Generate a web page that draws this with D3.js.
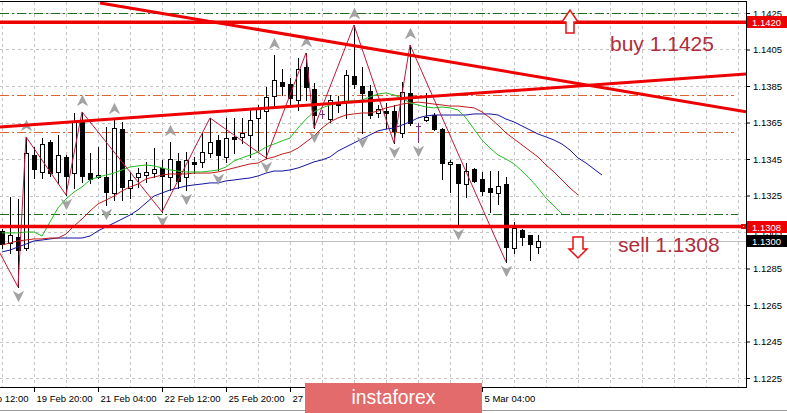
<!DOCTYPE html>
<html><head><meta charset="utf-8">
<script src="https://cdn.jsdelivr.net/npm/d3@7"></script>
<style>
html,body{margin:0;padding:0;background:#fff;}
svg{display:block;}
text{font-family:"Liberation Sans",Arial,sans-serif;}
</style></head><body>
<svg id="c" width="787" height="413"></svg>
<script>
// ---------- DATA (H4 candles, index 0 = 19 Feb 04:00) ----------
const open = [1.13055,1.12990,1.13023,1.12962,1.13472,1.13379,1.13543,1.13379,1.13461,1.13373,
1.13664,1.13373,1.13351,1.13351,1.13264,1.13614,1.13291,1.13351,1.13362,1.13373,
1.13401,1.13351,1.13439,1.13351,1.13434,1.13434,1.13483,1.13554,1.13461,1.13571,
1.13571,1.13582,1.13675,1.13713,1.13795,1.13872,1.13861,1.13773,1.13954,1.13834,
1.13697,1.13669,1.13762,1.13762,1.13905,1.13850,1.13823,1.13702,1.13713,1.13713,
1.13592,1.13812,1.13631,1.13664,1.13691,1.13614,1.13423,1.13423,1.13313,1.13395,
1.13340,1.13291,1.13264,1.13313,1.12962,1.13061,1.13034,1.12968];
const high = [1.13066,1.13242,1.13231,1.13571,1.13516,1.13565,1.13554,1.13582,1.13472,1.13702,
1.13708,1.13483,1.13516,1.13625,1.13664,1.13653,1.13373,1.13401,1.13434,1.13510,
1.13445,1.13543,1.13483,1.13488,1.13461,1.13592,1.13675,1.13582,1.13675,1.13675,
1.13675,1.13719,1.13746,1.13845,1.14020,1.13943,1.13894,1.14003,1.14031,1.13867,
1.13719,1.13801,1.13795,1.13938,1.14184,1.13954,1.13856,1.13746,1.13757,1.13746,
1.13872,1.14075,1.13647,1.13812,1.13702,1.13620,1.13445,1.13423,1.13428,1.13401,
1.13379,1.13384,1.13384,1.13351,1.13105,1.13066,1.13034,1.13034];
const low = [1.12962,1.12935,1.12749,1.12951,1.13346,1.13346,1.13357,1.13319,1.13253,1.13291,
1.13324,1.13319,1.13346,1.13198,1.13225,1.13225,1.13236,1.13297,1.13324,1.13351,
1.13160,1.13280,1.13291,1.13280,1.13373,1.13406,1.13461,1.13390,1.13434,1.13483,
1.13538,1.13461,1.13499,1.13456,1.13735,1.13801,1.13746,1.13719,1.13773,1.13620,
1.13675,1.13653,1.13708,1.13675,1.13839,1.13592,1.13675,1.13680,1.13620,1.13538,
1.13571,1.13636,1.13543,1.13658,1.13609,1.13340,1.13269,1.13088,1.13242,1.13324,
1.13253,1.13160,1.13204,1.12886,1.12935,1.12979,1.12897,1.12935];
const close = [1.12984,1.13034,1.12951,1.13483,1.13395,1.13532,1.13373,1.13472,1.13357,1.13653,
1.13357,1.13340,1.13362,1.13269,1.13620,1.13297,1.13335,1.13373,1.13379,1.13395,
1.13357,1.13450,1.13330,1.13445,1.13423,1.13488,1.13543,1.13472,1.13565,1.13560,
1.13592,1.13664,1.13724,1.13790,1.13883,1.13850,1.13784,1.13943,1.13845,1.13691,
1.13697,1.13773,1.13746,1.13910,1.13861,1.13812,1.13691,1.13724,1.13702,1.13603,
1.13817,1.13647,1.13631,1.13680,1.13614,1.13428,1.13434,1.13319,1.13384,1.13330,
1.13275,1.13269,1.13302,1.12968,1.13072,1.13023,1.12984,1.13000];

// Alligator-style moving averages (shifted forward)
const maGreen = [1.13045,1.13045,1.13045,1.13050,1.13050,1.13028,1.13105,1.13182,1.13231,1.13269,
1.13297,1.13335,1.13351,1.13362,1.13373,1.13390,1.13406,1.13412,1.13417,1.13412,
1.13401,1.13390,1.13384,1.13379,1.13379,1.13379,1.13384,1.13390,1.13406,1.13439,
1.13456,1.13472,1.13488,1.13516,1.13532,1.13549,1.13565,1.13620,1.13669,1.13708,
1.13730,1.13746,1.13757,1.13768,1.13768,1.13773,1.13790,1.13806,1.13812,1.13801,
1.13784,1.13757,1.13746,1.13735,1.13730,1.13735,1.13730,1.13719,1.13675,1.13614,
1.13554,1.13510,1.13472,1.13450,1.13423,1.13384,1.13341,1.13291,1.13236,1.13193,
1.13149];
const maRed = [1.12979,1.12990,1.13001,1.13006,1.13012,1.13012,1.13017,1.13017,1.13039,1.13083,
1.13121,1.13165,1.13204,1.13225,1.13247,1.13275,1.13297,1.13313,1.13341,1.13351,
1.13362,1.13368,1.13368,1.13368,1.13373,1.13373,1.13373,1.13379,1.13390,1.13401,
1.13412,1.13423,1.13428,1.13450,1.13461,1.13477,1.13488,1.13510,1.13543,1.13576,
1.13620,1.13653,1.13675,1.13691,1.13697,1.13702,1.13702,1.13713,1.13730,1.13740,
1.13751,1.13757,1.13762,1.13757,1.13751,1.13746,1.13740,1.13740,1.13735,1.13730,
1.13708,1.13675,1.13636,1.13593,1.13560,1.13527,1.13494,1.13461,1.13417,1.13379,
1.13335,1.13291,1.13253];
const maBlue = [1.12941,1.12951,1.12968,1.12984,1.13001,1.13006,1.13012,1.13017,1.13017,1.13017,
1.13017,1.13028,1.13056,1.13078,1.13099,1.13121,1.13143,1.13171,1.13209,1.13247,
1.13264,1.13280,1.13291,1.13302,1.13308,1.13313,1.13319,1.13319,1.13330,1.13335,
1.13341,1.13346,1.13357,1.13373,1.13384,1.13384,1.13390,1.13401,1.13417,1.13434,
1.13445,1.13461,1.13494,1.13516,1.13538,1.13560,1.13582,1.13604,1.13614,1.13620,
1.13636,1.13653,1.13675,1.13686,1.13691,1.13691,1.13691,1.13691,1.13691,1.13697,
1.13697,1.13697,1.13691,1.13669,1.13653,1.13631,1.13609,1.13587,1.13571,1.13554,
1.13532,1.13499,1.13456,1.13428,1.13395,1.13362];

// ZigZag pivots
const zzIdx   = [-1,2,3,8,10,20,26,33,38,39,44,49,51,63];
const zzPrice = [1.12995,1.12749,1.13571,1.13253,1.13708,1.13160,1.13675,1.13456,1.14031,1.13620,1.14184,1.13538,1.14075,1.12886];

// Fractals (candle indices)
const upFractals   = [3,10,14,21,34,38,44,51];
const downFractals = [2,8,13,20,23,27,33,39,45,49,52,57,63];

// Trend lines (index, price)
const trendDownIdx = [12.25, 93];   const trendDownPrice = [1.14305, 1.13709];
const trendUpIdx   = [-0.25, 93];   const trendUpPrice   = [1.13625, 1.13916];

// Horizontal levels
const redLevels    = [1.1420, 1.1308];
const greenLevels  = [1.1425, 1.1315];
const orangeLevels = [1.1380, 1.1360];
const lastPrice    = 1.1300;

// Axis ticks (labels under the logo are hidden in the reference)
const priceTicks = [1.1225,1.1245,1.1265,1.1285,1.1305,1.1325,1.1345,1.1365,1.1385,1.1405,1.1425];
const timeIdx    = [-4,4,12,20,28,36,44,52,60];
const timeLabels = ["18 Feb 12:00","19 Feb 20:00","21 Feb 04:00","22 Feb 12:00","25 Feb 20:00","27 Feb 04:00","","","5 Mar 04:00"];

// Annotations
const buyText  = {i:76, p:1.14042, t:"buy 1.1425"};
const sellText = {i:77, p:1.12940, t:"sell 1.1308"};
const upArrow  = {i:71, p:1.14266};
const downArrow= {i:72, p:1.13023};

// ---------- DRAW ----------
const W=787,H=413, R=746, T=2, B=387;
const x=d3.scaleLinear().domain([0,93]).range([2,746]);
const y=d3.scaleLinear().domain([1.1225,1.1425]).range([378,13]);
const svg=d3.select('#c');
svg.append('rect').attr('width',W).attr('height',H).attr('fill','#fff');
svg.append('defs').append('clipPath').attr('id','clip')
  .append('rect').attr('x',0).attr('y',T).attr('width',R).attr('height',B-T);
const plot=svg.append('g').attr('clip-path','url(#clip)');
const px=v=>Math.round(v)+0.5;

// grid
plot.selectAll('.vg').data(d3.range(0,93,4)).join('line')
  .attr('x1',d=>px(x(d))).attr('x2',d=>px(x(d))).attr('y1',T).attr('y2',B)
  .attr('stroke','#c4c4c4').attr('stroke-dasharray','3,3');
plot.selectAll('.hg').data(priceTicks).join('line')
  .attr('x1',0).attr('x2',R).attr('y1',d=>px(y(d))).attr('y2',d=>px(y(d)))
  .attr('stroke','#c4c4c4').attr('stroke-dasharray','3,3');

// level lines
plot.selectAll('.gl').data(greenLevels).join('line')
  .attr('x1',0).attr('x2',738).attr('y1',d=>px(y(d))).attr('y2',d=>px(y(d)))
  .attr('stroke','#1f6f1f').attr('stroke-dasharray','9,3,2,3');
plot.selectAll('.ol').data(orangeLevels).join('line')
  .attr('x1',0).attr('x2',734).attr('y1',d=>px(y(d))).attr('y2',d=>px(y(d)))
  .attr('stroke','#e0622f').attr('stroke-dasharray','9,3,2,3');
plot.append('line').attr('x1',0).attr('x2',R).attr('y1',px(y(lastPrice))).attr('y2',px(y(lastPrice)))
  .attr('stroke','#c0c0c0');

// candles
const cg=plot.append('g');
open.forEach((o,i)=>{
  const c=close[i], h=high[i], l=low[i];
  const cx=Math.round(x(i));
  const doji=Math.abs(c-o)<0.000005;
  const col=doji?'#7b2d8b':'#000';
  cg.append('line').attr('x1',cx+0.5).attr('x2',cx+0.5)
    .attr('y1',Math.round(y(h))).attr('y2',Math.round(y(l))+1).attr('stroke',col);
  if(doji){
    cg.append('line').attr('x1',cx-2).attr('x2',cx+3).attr('y1',px(y(o))).attr('y2',px(y(o))).attr('stroke',col);
  } else {
    const yt=Math.round(y(Math.max(o,c))), yb=Math.round(y(Math.min(o,c)));
    cg.append('rect').attr('x',cx-1.5).attr('y',yt+0.5).attr('width',4).attr('height',Math.max(yb-yt,1))
      .attr('fill',c>o?'#fff':'#000').attr('stroke','#000');
  }
});

// moving averages
const line=d3.line().x((d,i)=>x(i)).y(d=>y(d));
[[maBlue,'#1414a0'],[maRed,'#c41a1a'],[maGreen,'#22c022']].forEach(([arr,col])=>{
  plot.append('path').attr('d',line(arr)).attr('fill','none').attr('stroke',col).attr('stroke-width',1);
});

// zigzag
const zz=d3.line().x(d=>x(d[0])).y(d=>y(d[1]));
plot.append('path').attr('d',zz(zzIdx.map((d,k)=>[d,zzPrice[k]])))
  .attr('fill','none').attr('stroke','#c8143c').attr('stroke-width',1);

// fractals
const upPath='M0,-5.5 L5,4.5 L0,1.5 L-5,4.5 Z';
const dnPath='M0,5.5 L5,-4.5 L0,-1.5 L-5,-4.5 Z';
plot.selectAll('.uf').data(upFractals).join('path')
  .attr('d',upPath).attr('transform',d=>`translate(${x(d)+0.5},${y(high[d])-11})`)
  .attr('fill','#a4a4a4').attr('stroke','#8a8a8a').attr('stroke-width',0.5);
plot.selectAll('.df').data(downFractals).join('path')
  .attr('d',dnPath).attr('transform',d=>`translate(${x(d)+0.5},${y(low[d])+9})`)
  .attr('fill','#a4a4a4').attr('stroke','#8a8a8a').attr('stroke-width',0.5);
plot.append('path').attr('d',dnPath).attr('transform',`translate(${x(69.5)},${y(1.14340)})`)
  .attr('fill','#a4a4a4');

// trend lines
plot.append('line').attr('x1',x(trendDownIdx[0])).attr('y1',y(trendDownPrice[0]))
  .attr('x2',x(trendDownIdx[1])).attr('y2',y(trendDownPrice[1])).attr('stroke','#ee0000').attr('stroke-width',3);
plot.append('line').attr('x1',x(trendUpIdx[0])).attr('y1',y(trendUpPrice[0]))
  .attr('x2',x(trendUpIdx[1])).attr('y2',y(trendUpPrice[1])).attr('stroke','#ee0000').attr('stroke-width',3);

// red levels
plot.selectAll('.rl').data(redLevels).join('line')
  .attr('x1',0).attr('x2',R).attr('y1',d=>y(d)).attr('y2',d=>y(d))
  .attr('stroke','#ee0000').attr('stroke-width',3.5);

// arrows
function upArrowPath(cx,ty){return `M${cx},${ty} L${cx+8},${ty+12} L${cx+4},${ty+12} L${cx+4},${ty+23} L${cx-4},${ty+23} L${cx-4},${ty+12} L${cx-8},${ty+12} Z`;}
function dnArrowPath(cx,ty){return `M${cx-5},${ty} L${cx+5},${ty} L${cx+5},${ty+12} L${cx+9},${ty+12} L${cx},${ty+21} L${cx-9},${ty+12} L${cx-5},${ty+12} Z`;}
plot.append('path').attr('d',upArrowPath(x(upArrow.i),y(upArrow.p))).attr('fill','#fff').attr('stroke','#e81010').attr('stroke-width',1.5);
plot.append('path').attr('d',dnArrowPath(x(downArrow.i),y(downArrow.p))).attr('fill','#fff').attr('stroke','#e81010').attr('stroke-width',1.5);

// texts
[buyText,sellText].forEach(t=>{
  plot.append('text').attr('x',x(t.i)).attr('y',y(t.p)).text(t.t)
    .attr('font-size',21).attr('fill','#b22c3c');
});

// frame
svg.append('line').attr('x1',0).attr('x2',R).attr('y1',1.5).attr('y2',1.5).attr('stroke','#000');
svg.append('line').attr('x1',R+0.5).attr('x2',R+0.5).attr('y1',1).attr('y2',B+1).attr('stroke','#000');
svg.append('line').attr('x1',0).attr('x2',R+1).attr('y1',B+0.5).attr('y2',B+0.5).attr('stroke','#000');

// right axis
const ax=svg.append('g').attr('transform',`translate(${R+1},0)`)
  .call(d3.axisRight(y).tickValues(priceTicks).tickSize(3).tickPadding(3).tickFormat(d3.format('.4f')));
ax.select('.domain').remove();
ax.selectAll('text').attr('font-size',9.5).attr('font-family','"Liberation Sans",Arial,sans-serif').attr('fill','#000');

// bottom axis
const bx=svg.append('g').attr('transform',`translate(0,${B+1})`)
  .call(d3.axisBottom(x).tickValues(timeIdx).tickFormat((d,k)=>timeLabels[k]).tickSize(4).tickPadding(3));
bx.select('.domain').remove();
bx.selectAll('text').attr('text-anchor','start').attr('dx',2).attr('font-size',9.5)
  .attr('font-family','"Liberation Sans",Arial,sans-serif').attr('fill','#000');

// price label boxes
redLevels.forEach(v=>{
  const yy=Math.round(y(v));
  svg.append('rect').attr('x',R+1).attr('y',yy-6).attr('width',W-R-1).attr('height',12).attr('fill','#ee0000');
  svg.append('text').attr('x',R+6).attr('y',yy+3.5).text(d3.format('.4f')(v))
    .attr('font-size',9.5).attr('fill','#fff');
});
{
  const yy=Math.round(y(redLevels[1]));
  svg.append('rect').attr('x',741).attr('y',yy-3).attr('width',5).attr('height',5).attr('fill','#ee0000');
  svg.append('rect').attr('x',743).attr('y',yy-1).attr('width',1).attr('height',1).attr('fill','#fff');
}
{
  const yy=Math.round(y(lastPrice));
  svg.append('rect').attr('x',R+1).attr('y',yy-6).attr('width',W-R-1).attr('height',12).attr('fill','#000');
  svg.append('text').attr('x',R+6).attr('y',yy+3.5).text(d3.format('.4f')(lastPrice))
    .attr('font-size',9.5).attr('fill','#fff');
}

// window bottom border
svg.append('line').attr('x1',0).attr('x2',W).attr('y1',410.5).attr('y2',410.5).attr('stroke','#9a9a9a');

// logo
svg.append('rect').attr('x',305).attr('y',383).attr('width',177).attr('height',30).attr('fill','#e36b6b');
svg.append('text').attr('x',393.5).attr('y',404).attr('text-anchor','middle').text('instaforex')
  .attr('font-size',21).attr('fill','#fff').attr('textLength',84).attr('lengthAdjust','spacingAndGlyphs');
</script>
</body></html>
